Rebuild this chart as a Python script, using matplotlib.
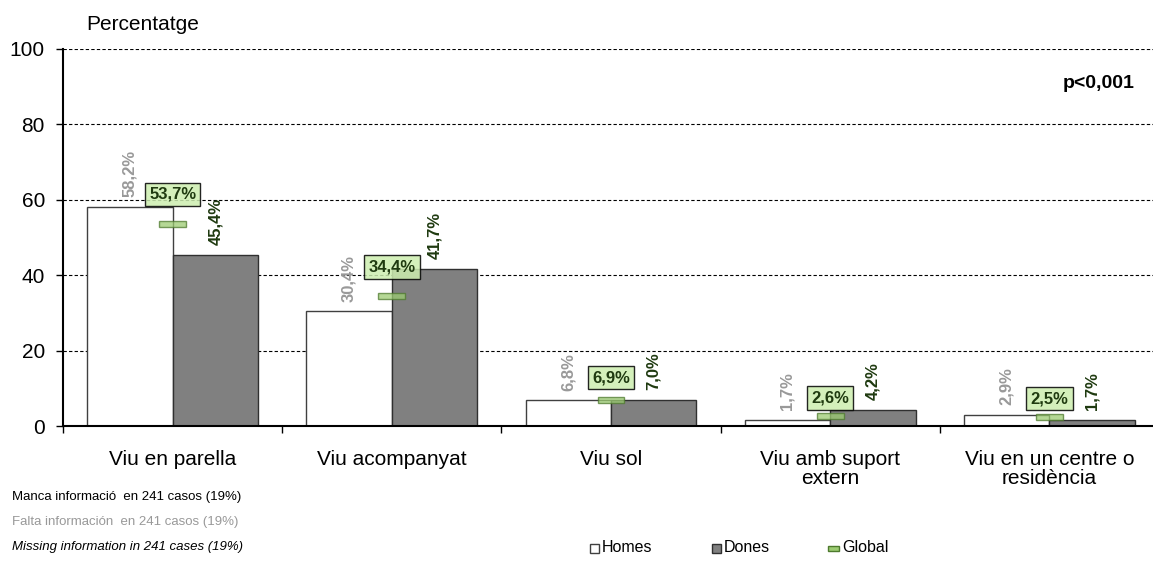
import matplotlib
matplotlib.use('Agg')
import matplotlib.pyplot as plt
import matplotlib.patches as mpatches
import numpy as np

plt.rcParams['font.family'] = ['Liberation Sans', 'DejaVu Sans']

categories = ["Viu en parella", "Viu acompanyat", "Viu sol",
              "Viu amb suport\nextern", "Viu en un centre o\nresidència"]
homes = [58.2, 30.4, 6.8, 1.7, 2.9]
dones = [45.4, 41.7, 7.0, 4.2, 1.7]
global_vals = [53.7, 34.4, 6.9, 2.6, 2.5]
yticks = [0, 20, 40, 60, 80, 100]
legend_labels = ["Homes", "Dones", "Global"]
notes = ["Manca informació  en 241 casos (19%)",
         "Falta información  en 241 casos (19%)",
         "Missing information in 241 cases (19%)"]

W, H = 1153, 561


def fmt(v):
    return "{:.1f}%".format(v).replace(".", ",")


def fx(px):
    return px / W


def fy(py):
    return 1 - py / H


fig = plt.figure(figsize=(W / 100, H / 100), dpi=100)
ax = fig.add_axes([fx(63), fy(426), 1096 / W, 377 / H])

x = np.arange(len(categories))
w = 0.39
ax.bar(x - w / 2, homes, w, color="white", edgecolor="#404040", linewidth=1, zorder=2)
ax.bar(x + w / 2, dones, w, color="#808080", edgecolor="#303030", linewidth=1, zorder=2)

# global marker: small flat rectangle at the global value
mh = 1.6
ax.bar(x, [mh] * len(x), 0.123, bottom=np.array(global_vals) - mh / 2,
       color="#9ccc72", alpha=0.75, edgecolor="#4e7a2e", linewidth=1, zorder=4)

box_off = [21, 21, 16, 13, 13]  # points above the marker
for i in range(len(categories)):
    ax.annotate(fmt(homes[i]), (x[i] - w / 2, homes[i]), xytext=(0, 7),
                textcoords="offset points", rotation=90, ha="center", va="bottom",
                fontsize=12, color="#999999", fontweight="bold")
    ax.annotate(fmt(dones[i]), (x[i] + w / 2, dones[i]), xytext=(0, 7),
                textcoords="offset points", rotation=90, ha="center", va="bottom",
                fontsize=12, color="#1f3a10", fontweight="bold")
    ax.annotate(fmt(global_vals[i]), (x[i], global_vals[i]), xytext=(0, box_off[i]),
                textcoords="offset points", ha="center", va="center",
                fontsize=12, color="#1f3a10", fontweight="bold", zorder=5,
                bbox=dict(boxstyle="square,pad=0.25", fc="#cdeeb0", ec="black",
                          lw=1, alpha=0.85))

ax.set_xlim(-0.5, 4.5)
ax.set_ylim(0, 100)
ax.set_yticks(yticks)
ax.set_yticklabels([str(t) for t in yticks], fontsize=15)
ax.yaxis.grid(True, linestyle=(0, (3, 2)), color="black", linewidth=0.8)
ax.set_axisbelow(True)
ax.tick_params(axis="y", length=5, width=1, direction="out", pad=8)

ax.set_xticks(np.arange(-0.5, 5, 1.0))
ax.set_xticklabels([])
ax.set_xticks(x, minor=True)
ax.set_xticklabels(categories, minor=True, fontsize=15, va="top", linespacing=1.05)
ax.tick_params(axis="x", which="major", length=5, width=1, direction="out")
ax.tick_params(axis="x", which="minor", length=0, pad=17)

for s in ["top", "right"]:
    ax.spines[s].set_visible(False)
ax.spines["left"].set_linewidth(1.5)
ax.spines["bottom"].set_linewidth(1.5)

fig.text(fx(86), fy(25), "Percentatge", fontsize=15, va="center", ha="left")
fig.text(fx(1135), fy(84), "p<0,001", fontsize=14, fontweight="bold",
         va="center", ha="right")

note_colors = ["black", "#999999", "black"]
note_styles = ["normal", "normal", "italic"]
for k, (txt, col, st) in enumerate(zip(notes, note_colors, note_styles)):
    fig.text(fx(12), fy(497 + 25 * k), txt, fontsize=9.5, va="center",
             color=col, style=st)

# legend, drawn by hand to place the keys like the reference
leg_y = 548
keys = [(590, dict(fc="white", ec="#404040"), 9, 9),
        (712, dict(fc="#808080", ec="#303030"), 9, 9),
        (828, dict(fc="#9ccc72", ec="#4e7a2e"), 11, 5)]
for (kx, style, kw, kh), lab in zip(keys, legend_labels):
    fig.add_artist(mpatches.Rectangle((fx(kx), fy(leg_y + kh / 2)), kw / W, kh / H,
                                      transform=fig.transFigure, lw=1, **style))
    fig.text(fx(kx + kw + 3), fy(leg_y), lab, fontsize=11.5, va="center", ha="left")

fig.savefig("out.png", dpi=100)
